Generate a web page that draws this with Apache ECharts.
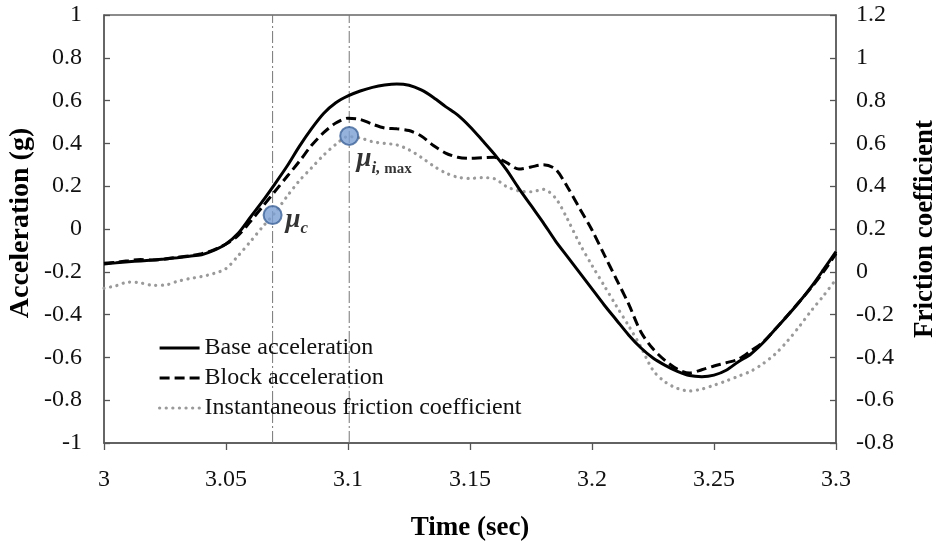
<!DOCTYPE html>
<html>
<head>
<meta charset="utf-8">
<script src="https://cdn.jsdelivr.net/npm/echarts@6/dist/echarts.min.js"></script>
<style>html,body{margin:0;padding:0;background:#fff}#c{width:938px;height:541px}</style>
</head>
<body>
<div id="c"></div>
<script>
const time = [3.000,3.005,3.010,3.015,3.020,3.025,3.030,3.035,3.040,3.045,
3.050,3.055,3.060,3.065,3.070,3.075,3.080,3.085,3.090,3.095,
3.100,3.105,3.110,3.115,3.120,3.125,3.130,3.135,3.140,3.145,
3.150,3.155,3.160,3.165,3.170,3.175,3.180,3.185,3.190,3.195,
3.200,3.205,3.210,3.215,3.220,3.225,3.230,3.235,3.240,3.245,
3.250,3.255,3.260,3.265,3.270,3.275,3.280,3.285,3.290,3.295,3.300];
const baseAcc = [-0.163,-0.158,-0.153,-0.149,-0.145,-0.140,-0.134,-0.127,-0.120,-0.100,
-0.070,-0.020,0.055,0.130,0.210,0.293,0.385,0.468,0.540,0.590,
0.622,0.645,0.662,0.673,0.678,0.672,0.650,0.615,0.572,0.532,
0.478,0.415,0.350,0.276,0.190,0.110,0.030,-0.055,-0.130,-0.205,
-0.280,-0.355,-0.425,-0.495,-0.555,-0.603,-0.637,-0.665,-0.685,-0.690,
-0.683,-0.660,-0.620,-0.585,-0.533,-0.470,-0.407,-0.340,-0.268,-0.188,-0.106];
const blockAcc = [-0.160,-0.155,-0.148,-0.143,-0.145,-0.140,-0.132,-0.125,-0.115,-0.098,
-0.070,-0.030,0.035,0.105,0.175,0.245,0.315,0.390,0.450,0.495,
0.518,0.512,0.490,0.472,0.468,0.460,0.435,0.390,0.355,0.335,
0.330,0.333,0.335,0.310,0.280,0.290,0.300,0.280,0.195,0.095,
-0.005,-0.120,-0.235,-0.350,-0.480,-0.560,-0.615,-0.655,-0.673,-0.658,
-0.640,-0.625,-0.608,-0.570,-0.530,-0.470,-0.405,-0.340,-0.272,-0.198,-0.115];
const friction = [-0.077,-0.065,-0.048,-0.052,-0.063,-0.062,-0.045,-0.032,-0.022,-0.008,
0.015,0.075,0.141,0.210,0.275,0.352,0.425,0.485,0.545,0.595,
0.632,0.625,0.608,0.600,0.593,0.570,0.535,0.495,0.462,0.442,
0.436,0.440,0.435,0.398,0.378,0.374,0.385,0.345,0.245,0.130,
0.030,-0.065,-0.160,-0.252,-0.350,-0.460,-0.515,-0.545,-0.557,-0.548,
-0.530,-0.510,-0.488,-0.465,-0.430,-0.385,-0.325,-0.255,-0.180,-0.110,-0.035];
const guideTimes = [3.0691, 3.1005];
const guideSpan = [-1, 1];
const markerTimes = [3.0691, 3.1005];
const markerValues = [0.265, 0.635];
const seriesNames = ['Base acceleration', 'Block acceleration', 'Instantaneous friction coefficient'];

const FONT = '"Liberation Serif", "Times New Roman", serif';
const pair = (xs, ys) => xs.map((x, i) => [x, ys[i]]);

const guideSeries = guideTimes.map((t, i) => ({
  name: 'guide' + i, type: 'line', yAxisIndex: 0, symbol: 'none', silent: true,
  data: guideSpan.map(v => [t, v]),
  lineStyle: {color: '#777', width: 1, type: [12, 3, 2, 3]},
  z: 1
}));

const chart = echarts.init(document.getElementById('c'), null, {renderer: 'canvas'});
chart.setOption({
  animation: false,
  backgroundColor: '#fff',
  textStyle: {fontFamily: FONT},
  grid: {left: 104, right: 102, top: 15, bottom: 98, outerBoundsMode: 'none', containLabel: false,
    show: true, borderColor: '#666', borderWidth: 1.3, backgroundColor: 'transparent'},
  legend: {
    data: seriesNames,
    orient: 'vertical', left: 153, top: 331,
    itemWidth: 40, itemHeight: 14, itemGap: 6,
    textStyle: {fontFamily: FONT, fontSize: 24, color: '#111'},
    lineStyle: {width: 'inherit'},
    itemStyle: {opacity: 0},
    selectedMode: false
  },
  xAxis: {
    type: 'value', min: 3, max: 3.3, interval: 0.05,
    name: 'Time (sec)', nameLocation: 'middle', nameGap: 72,
    nameTextStyle: {fontFamily: FONT, fontSize: 27, fontWeight: 'bold', color: '#000'},
    axisLine: {onZero: false, lineStyle: {color: '#555', width: 1.5}},
    axisTick: {show: true, inside: false, length: 7, lineStyle: {color: '#555', width: 1.3}},
    axisLabel: {fontFamily: FONT, fontSize: 24, color: '#111', margin: 25},
    splitLine: {show: false}
  },
  yAxis: [{
    type: 'value', min: -1, max: 1, interval: 0.2, position: 'left',
    name: 'Acceleration (g)', nameLocation: 'middle', nameGap: 69, nameRotate: 90,
    nameMoveOverlap: false,
    nameTextStyle: {fontFamily: FONT, fontSize: 28, fontWeight: 'bold', color: '#000', padding: [0, 0, 0, 12]},
    axisLine: {show: true, onZero: false, lineStyle: {color: '#555', width: 1.5}},
    axisTick: {show: true, inside: true, length: 6, lineStyle: {color: '#555', width: 1.3}},
    axisLabel: {fontFamily: FONT, fontSize: 24, color: '#111', margin: 22,
      formatter: v => String(Math.round(v * 10) / 10)},
    splitLine: {show: false}
  }, {
    type: 'value', min: -0.8, max: 1.2, interval: 0.2, position: 'right',
    name: 'Friction coefficient', nameLocation: 'middle', nameGap: 76, nameRotate: 90,
    nameTextStyle: {fontFamily: FONT, fontSize: 27, fontWeight: 'bold', color: '#000'},
    axisLine: {show: true, onZero: false, lineStyle: {color: '#555', width: 1.5}},
    axisTick: {show: true, inside: true, length: 6, lineStyle: {color: '#555', width: 1.3}},
    axisLabel: {fontFamily: FONT, fontSize: 24, color: '#111', margin: 20,
      formatter: v => String(Math.round(v * 10) / 10)},
    splitLine: {show: false}
  }],
  series: guideSeries.concat([{
    name: seriesNames[0], type: 'line', yAxisIndex: 0, symbol: 'none', smooth: 0.3,
    data: pair(time, baseAcc),
    lineStyle: {color: '#000', width: 3},
    itemStyle: {color: '#000'},
    z: 3
  }, {
    name: seriesNames[1], type: 'line', yAxisIndex: 0, symbol: 'none', smooth: 0.3,
    data: pair(time, blockAcc),
    lineStyle: {color: '#000', width: 3, type: [10, 5]},
    itemStyle: {color: '#000'},
    z: 3
  }, {
    name: seriesNames[2], type: 'line', yAxisIndex: 1, symbol: 'none', smooth: 0.3,
    data: pair(time, friction),
    lineStyle: {color: '#9a9a9a', width: 3.2, type: [0.1, 6.5], cap: 'round'},
    itemStyle: {color: '#9a9a9a'},
    z: 2
  }, {
    name: 'markers', type: 'scatter', yAxisIndex: 1, symbol: 'circle', symbolSize: 18,
    data: pair(markerTimes, markerValues).map((p, i) => ({
      value: p,
      label: i === 0 ? {
        show: true, position: 'right', distance: 3, offset: [0, 5],
        formatter: '{mu|μ}{sub|c}',
        rich: {
          mu: {fontFamily: FONT, fontSize: 27, fontWeight: 'bold', fontStyle: 'italic', color: '#000', verticalAlign: 'bottom'},
          sub: {fontFamily: FONT, fontSize: 17, fontWeight: 'bold', fontStyle: 'italic', color: '#000', verticalAlign: 'bottom', padding: [0, 0, -4, 0]}
        }
      } : {
        show: true, position: 'bottom', distance: 1, offset: [35, -1],
        formatter: '{mu|μ}{sub|i,}{mx| max}',
        rich: {
          mu: {fontFamily: FONT, fontSize: 27, fontWeight: 'bold', fontStyle: 'italic', color: '#000', verticalAlign: 'bottom'},
          sub: {fontFamily: FONT, fontSize: 17, fontWeight: 'bold', fontStyle: 'italic', color: '#000', verticalAlign: 'bottom', padding: [0, 0, -4, 0]},
          mx: {fontFamily: FONT, fontSize: 15, fontWeight: 'bold', color: '#000', verticalAlign: 'bottom', padding: [0, 0, -4, 0]}
        }
      }
    })),
    itemStyle: {color: '#7b9fd3', borderColor: '#3f6499', borderWidth: 2},
    z: 5
  }])
});
</script>
</body>
</html>
